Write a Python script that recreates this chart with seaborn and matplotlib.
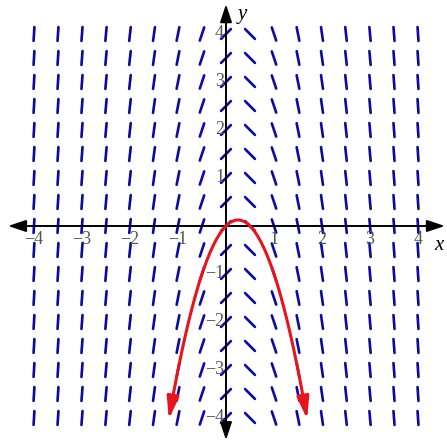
import numpy as np
import pandas as pd
import matplotlib
matplotlib.use("Agg")
import matplotlib.pyplot as plt
import seaborn as sns

# slope field dy/dx = 1 - 4x, solution y = x - 2x^2
x_grid = [-4, -3.5, -3, -2.5, -2, -1.5, -1, -0.5, 0, 0.5, 1, 1.5, 2, 2.5, 3, 3.5, 4]
y_grid = [-4, -3.5, -3, -2.5, -2, -1.5, -1, -0.5, 0, 0.5, 1, 1.5, 2, 2.5, 3, 3.5, 4]
x_ticks = [-4, -3, -2, -1, 1, 2, 3, 4]
y_ticks = [-4, -3, -2, -1, 1, 2, 3, 4]
curve_x = list(np.linspace(-1.17, 1.67, 200))

def slope(x, y):
    return 1 - 4 * x

seg_len = 0.29
rows = []
sid = 0
for xv in x_grid:
    for yv in y_grid:
        m = slope(xv, yv)
        dx = 0.5 * seg_len / np.sqrt(1 + m * m)
        dy = m * dx
        rows.append((sid, xv - dx, yv - dy))
        rows.append((sid, xv + dx, yv + dy))
        sid += 1
seg_df = pd.DataFrame(rows, columns=["seg", "x", "y"])
curve_df = pd.DataFrame({"x": curve_x, "y": [c - 2 * c * c for c in curve_x]})

sns.set_style("white")
fig = plt.figure(figsize=(4.47, 4.44), dpi=100)
ax = fig.add_axes([0, 0, 1, 1])
ax.set_xlim(-4.708, 4.604)
ax.set_ylim(-4.542, 4.708)
ax.set_aspect("auto")
for s in ax.spines.values():
    s.set_visible(False)
ax.set_xticks([])
ax.set_yticks([])

sns.lineplot(data=seg_df, x="x", y="y", units="seg", estimator=None,
             color="#0a0aa8", lw=1.9, ax=ax, sort=False, zorder=2)

# axes with arrows
axkw = dict(arrowstyle="-|>,head_length=0.9,head_width=0.3", color="black", lw=1.4,
            shrinkA=0, shrinkB=0, mutation_scale=12)
ax.annotate("", xy=(4.56, 0), xytext=(0, 0), arrowprops=axkw, zorder=3)
ax.annotate("", xy=(-4.54, 0), xytext=(0, 0), arrowprops=axkw, zorder=3)
ax.annotate("", xy=(0, 4.62), xytext=(0, 0), arrowprops=axkw, zorder=3)
ax.annotate("", xy=(0, -4.46), xytext=(0, 0), arrowprops=axkw, zorder=3)

sns.lineplot(data=curve_df, x="x", y="y", color="#e8141c", lw=2.2, ax=ax,
             sort=False, zorder=4)
ckw = dict(arrowstyle="-|>,head_length=1.1,head_width=0.3", color="#e8141c", lw=2.2,
           shrinkA=0, shrinkB=0, mutation_scale=12)
x0, x1 = curve_x[3], curve_x[0]
ax.annotate("", xy=(-1.19, -1.19 - 2 * 1.19 ** 2), xytext=(x0, x0 - 2 * x0 * x0),
            arrowprops=ckw, zorder=4)
x0 = curve_x[-4]
ax.annotate("", xy=(1.69, 1.69 - 2 * 1.69 ** 2), xytext=(x0, x0 - 2 * x0 * x0),
            arrowprops=ckw, zorder=4)

font = dict(family="Liberation Serif", size=13, color="#555555")
for t in x_ticks:
    lab = str(t) if t > 0 else "\u2212" + str(-t)
    ax.text(t, -0.29, lab, ha="center", va="center", **font)
for t in y_ticks:
    lab = str(t) if t > 0 else "\u2212" + str(-t)
    ax.text(-0.04, t, lab, ha="right", va="center", **font)

ax.text(4.43, -0.4, "x", family="Liberation Serif", style="italic", size=15,
        ha="center", va="center", color="black")
ax.text(0.35, 4.4, "y", family="Liberation Serif", style="italic", size=15,
        ha="center", va="center", color="black")

fig.savefig("out.png", dpi=100)
